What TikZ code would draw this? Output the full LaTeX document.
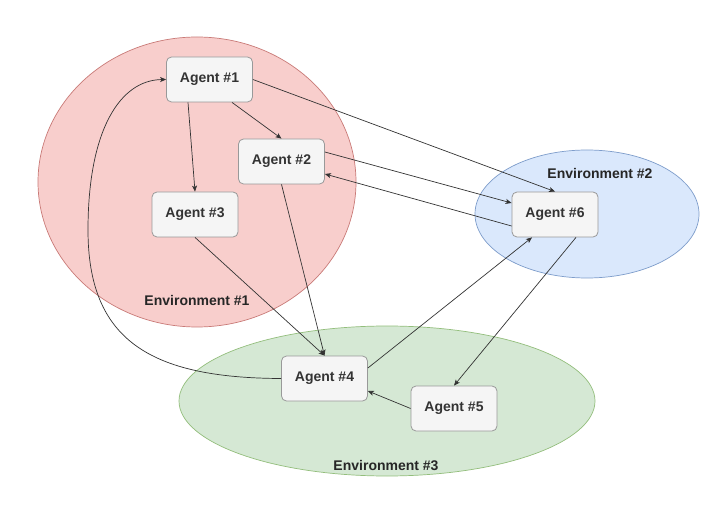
\documentclass[tikz,border=0pt]{standalone}
\usepackage{fontspec}
\setmainfont{Liberation Sans}
\usetikzlibrary{arrows.meta}
\definecolor{redfill}{HTML}{F8CECC}
\definecolor{redline}{HTML}{C97A77}
\definecolor{bluefill}{HTML}{DAE8FC}
\definecolor{blueline}{HTML}{7E9DCB}
\definecolor{greenfill}{HTML}{D5E8D4}
\definecolor{greenline}{HTML}{93BE7C}
\definecolor{agentfill}{HTML}{F5F5F5}
\definecolor{agentline}{HTML}{999999}
\definecolor{agenttext}{HTML}{333333}
\begin{document}
\begin{tikzpicture}[x=1pt,y=-1pt,
  agent/.style={draw=agentline, fill=agentfill, rounded corners=5pt, line width=0.8pt,
    minimum width=86pt, minimum height=45pt, inner sep=0pt,
    font=\fontsize{14}{16}\selectfont\bfseries, text=agenttext},
  envlabel/.style={font=\fontsize{14}{16}\selectfont\bfseries, text=black!85, inner sep=0pt},
  envshape/.style={line width=0.7pt},
  conn/.style={draw=black!80, line width=0.7pt, -{Stealth[length=6pt,width=5pt,inset=1.5pt]}}
]
\useasboundingbox (0,0) rectangle (725,510);
\fill[white] (0,0) rectangle (725,510);

% environments
\filldraw[envshape, fill=redfill, draw=redline] (197,182) ellipse [x radius=159, y radius=145];
\filldraw[envshape, fill=bluefill, draw=blueline] (587,214) ellipse [x radius=112, y radius=64];
\filldraw[envshape, fill=greenfill, draw=greenline] (387,401) ellipse [x radius=208, y radius=75];

\node[envlabel] (e1) at (197,300) {Environment \#1};
\node[envlabel] (e2) at (600,173) {Environment \#2};
\node[envlabel] (e3) at (386,466) {Environment \#3};

% agents
\node[agent] (a1) at (209.5,79.5) {Agent \#1};
\node[agent] (a2) at (281.5,161.5) {Agent \#2};
\node[agent] (a3) at (195,214.5) {Agent \#3};
\node[agent] (a6) at (555,214.5) {Agent \#6};
\node[agent] (a4) at (324.5,378.5) {Agent \#4};
\node[agent] (a5) at (454,408.5) {Agent \#5};

% connectors
\draw[conn] ([xshift=-21.5pt]a1.south) -- (a3.north);
\draw[conn] ([xshift=22.5pt]a1.south) -- (a2.north);
\draw[conn] (a1.east) -- (a6.north);
\draw[conn] ([yshift=9.5pt]a2.east) -- ([yshift=11.5pt]a6.west);
\draw[conn] ([yshift=-11.5pt]a6.west) -- ([yshift=-12.5pt]a2.east);
\draw[conn] (a2.south) -- (a4.north);
\draw[conn] (a3.south) -- (a4.north);
\draw[conn] ([yshift=10.5pt]a4.east) -- ([xshift=-23pt]a6.south);
\draw[conn] ([xshift=21pt]a6.south) -- (a5.north);
\draw[conn] (a5.west) -- ([yshift=-12.5pt]a4.east);
\draw[conn] (a4.west) .. controls (150,378) and (88,340) .. (88,230)
  .. controls (88,130) and (120,80) .. (a1.west);
\end{tikzpicture}
\end{document}
